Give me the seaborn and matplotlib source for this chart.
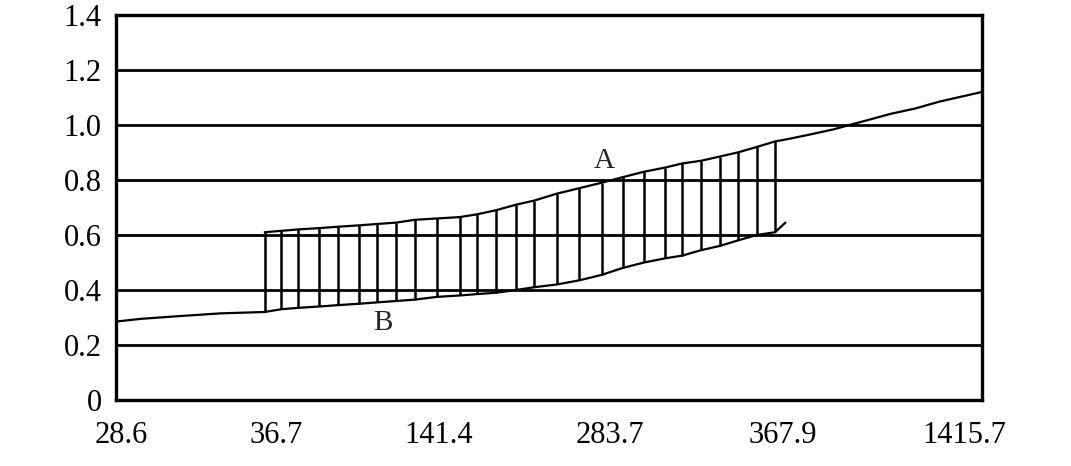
import numpy as np
import pandas as pd
import matplotlib
matplotlib.use("Agg")
import matplotlib.pyplot as plt
import seaborn as sns

# x runs on a 0-100 scale across the plot; labels are the printed category values
tick_pos = [0.6, 18.5, 37.3, 57.1, 77.0, 98.0]
tick_labels = ["28.6", "36.7", "141.4", "283.7", "367.9", "1415.7"]

# positions of the vertical connectors between curve B and curve A
conn_x = [17.2, 19.1, 21.0, 23.5, 25.7, 28.1, 30.2, 32.4, 34.5, 37.1, 39.7, 41.7, 43.9,
          46.2, 48.3, 50.9, 53.5, 56.1, 58.5, 61.0, 63.4, 65.4, 67.6, 69.7, 71.8, 74.0, 76.1]
conn_a = [0.61, 0.615, 0.62, 0.625, 0.63, 0.635, 0.64, 0.645, 0.655, 0.66, 0.665, 0.675, 0.69,
          0.71, 0.725, 0.75, 0.77, 0.79, 0.81, 0.83, 0.845, 0.86, 0.87, 0.885, 0.90, 0.92, 0.94]
conn_b = [0.32, 0.33, 0.335, 0.34, 0.345, 0.35, 0.355, 0.36, 0.365, 0.375, 0.38, 0.385, 0.39,
          0.40, 0.41, 0.42, 0.435, 0.455, 0.48, 0.50, 0.515, 0.525, 0.545, 0.56, 0.58, 0.60, 0.61]

# curve B: lead-in on the left, then along the connectors, small hook at the end
b_lead_x = [0.0, 2.9, 7.3, 12.1]
b_lead_y = [0.285, 0.295, 0.305, 0.315]
b_hook_x = [77.3]
b_hook_y = [0.645]

# curve A: along the connectors, then running on to the right edge
a_tail_x = [77.8, 80.1, 83.0, 84.7, 86.5, 89.4, 92.3, 95.1, 98.6, 100.0]
a_tail_y = [0.95, 0.965, 0.985, 1.0, 1.015, 1.04, 1.06, 1.085, 1.11, 1.12]

curve_a = pd.DataFrame({"x": conn_x + a_tail_x, "y": conn_a + a_tail_y})
curve_b = pd.DataFrame({"x": b_lead_x + conn_x + b_hook_x, "y": b_lead_y + conn_b + b_hook_y})

sns.set_style("white")
plt.rcParams["font.family"] = ["Liberation Serif", "DejaVu Serif"]

fig = plt.figure(figsize=(10.71, 4.66), dpi=100)
ax = fig.add_axes([0.108, 0.1416, 0.809, 0.8264])

for y in [0.2, 0.4, 0.6, 0.8, 1.0, 1.2]:
    ax.axhline(y, color="black", lw=2.0, zorder=1)

sns.lineplot(data=curve_b, x="x", y="y", ax=ax, color="black", lw=1.6, zorder=3)
sns.lineplot(data=curve_a, x="x", y="y", ax=ax, color="black", lw=1.6, zorder=3)
ax.vlines(conn_x, conn_b, conn_a, color="black", lw=1.8, zorder=3)

ax.text(56.4, 0.87, "A", fontsize=21, ha="center", va="center")
ax.text(30.8, 0.28, "B", fontsize=21, ha="center", va="center")

ax.set_xlim(0, 100)
ax.set_ylim(0, 1.4)
ax.set_xticks(tick_pos)
ax.set_xticklabels(tick_labels)
ax.set_yticks([0, 0.2, 0.4, 0.6, 0.8, 1.0, 1.2, 1.4])
ax.set_yticklabels(["0", "0.2", "0.4", "0.6", "0.8", "1.0", "1.2", "1.4"])
ax.tick_params(length=0, labelsize=22, colors="black")
ax.tick_params(axis="x", pad=15)
ax.tick_params(axis="y", pad=10)
ax.set_xlabel("")
ax.set_ylabel("")
for side in ["left", "bottom", "right", "top"]:
    ax.spines[side].set_color("black")
    ax.spines[side].set_linewidth(2.4)

plt.savefig("out.png", dpi=100)
